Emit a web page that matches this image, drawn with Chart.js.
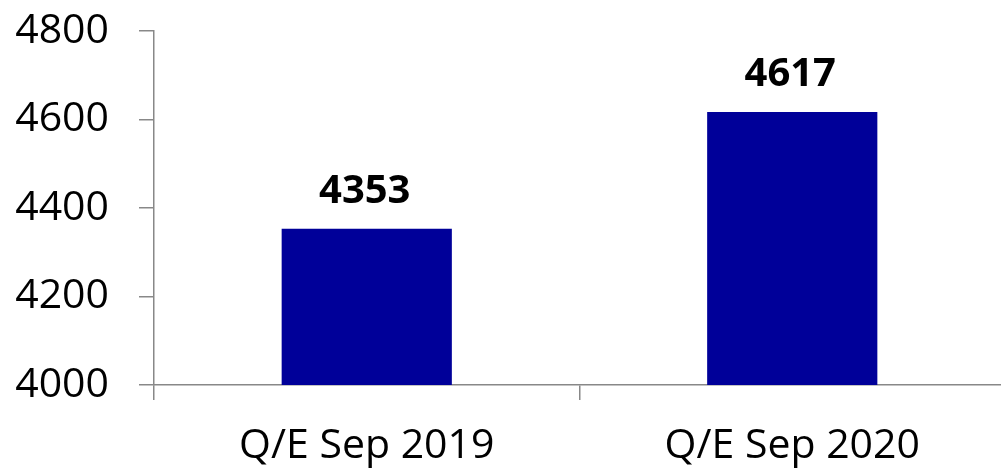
<!DOCTYPE html>
<html>
<head>
<meta charset="utf-8">
<style>
  html, body { margin: 0; padding: 0; background: #fff; overflow: hidden; }
  #wrap { width: 1001px; height: 468px; overflow: hidden; position: relative; }
  #box { width: 1005px; height: 468px; position: absolute; left: 0; top: 0; }
</style>
<script src="https://cdn.jsdelivr.net/npm/chart.js@4/dist/chart.umd.min.js"></script>
</head>
<body>
<div id="wrap"><div id="box"><canvas id="c"></canvas></div></div>
<script>
const categories = ["Q/E Sep 2019", "Q/E Sep 2020"];
const values = [4353, 4617];
const yMin = 4000;
const yMax = 4800;
const yStep = 200;

const FONT = "'Open Sans', sans-serif";

const valueLabels = {
  id: 'valueLabels',
  afterDatasetsDraw(chart) {
    const ctx = chart.ctx;
    const meta = chart.getDatasetMeta(0);
    ctx.save();
    ctx.font = "bold 40px " + FONT;
    ctx.fillStyle = '#000';
    ctx.textAlign = 'center';
    ctx.textBaseline = 'alphabetic';
    meta.data.forEach((bar, i) => {
      ctx.fillText(String(values[i]), bar.x - 2, bar.y - 26);
    });
    ctx.restore();
  }
};

new Chart(document.getElementById('c'), {
  type: 'bar',
  data: {
    labels: categories,
    datasets: [{
      data: values,
      backgroundColor: '#000099',
      borderWidth: 0,
      barPercentage: 0.4,
      categoryPercentage: 1.0
    }]
  },
  options: {
    responsive: true,
    maintainAspectRatio: false,
    animation: false,
    layout: { padding: 0 },
    plugins: { legend: { display: false }, tooltip: { enabled: false } },
    scales: {
      x: {
        offset: true,
        grid: {
          display: true,
          offset: true,
          drawOnChartArea: false,
          drawTicks: true,
          tickLength: 15,
          color: '#888888',
          lineWidth: 1.5
        },
        border: { display: true, color: '#888888', width: 1.5 },
        ticks: {
          font: { family: FONT, size: 41 },
          color: '#000',
          padding: 22,
          maxRotation: 0
        },
        afterFit(scale) { scale.height = 83; scale.paddingLeft = 0; scale.paddingRight = 0; }
      },
      y: {
        min: yMin,
        max: yMax,
        grid: {
          display: true,
          drawOnChartArea: false,
          drawTicks: true,
          tickLength: 15,
          color: '#888888',
          lineWidth: 1.5
        },
        border: { display: true, color: '#888888', width: 1.5 },
        ticks: {
          stepSize: yStep,
          font: { family: FONT, size: 41 },
          color: '#000',
          padding: 30,
          callback: (v) => String(v)
        },
        afterFit(scale) { scale.width = 154; scale.paddingTop = 31; scale.paddingBottom = 0; }
      }
    }
  },
  plugins: [valueLabels]
});
</script>
</body>
</html>
